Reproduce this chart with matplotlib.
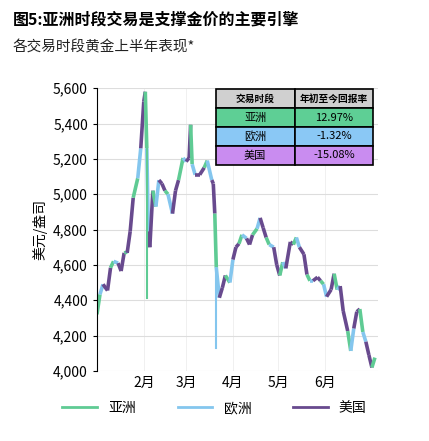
import matplotlib
matplotlib.use("Agg")
import matplotlib.pyplot as plt
from matplotlib.lines import Line2D

plt.rcParams['font.family'] = ['Noto Sans CJK SC', 'DejaVu Sans']

days = [0,2,4,7,9,11,14,16,18,20,20,22,24,27,29,31,32,33,34,35,37,39,41,43,45,47,50,52,54,57,59,61,62,63,65,68,71,73,76,77,78,79,81,83,85,88,90,92,94,96,99,101,103,106,108,110,112,114,117,119,121,123,125,128,130,132,134,137,139,141,143,146,148,150,152,155,157,159,161,163,166,168,170,172,174,176,178,180,182,184]
price = [4320,4433,4490,4455,4584,4620,4610,4565,4668,4672,4668,4790,4980,5090,5260,5525,5580,5260,4790,4700,5020,4930,5080,5060,5020,5000,4890,5020,5080,5205,5185,5205,5393,5170,5110,5110,5150,5190,5080,5060,4890,4584,4414,4470,4540,4500,4630,4700,4720,4770,4750,4715,4770,4805,4866,4810,4755,4715,4700,4600,4540,4615,4580,4730,4715,4755,4700,4660,4545,4510,4510,4530,4510,4490,4420,4460,4550,4460,4480,4339,4225,4113,4240,4335,4350,4220,4165,4090,4019,4075]
sessions = ['亚洲','欧洲','美国','美国']
colors = {'亚洲':'#5fcb94','欧洲':'#84c6ee','美国':'#684a8e'}

table_rows = ['亚洲','欧洲','美国']
table_vals = ['12.97%','-1.32%','-15.08%']
table_cols = ['交易时段','年初至今回报率']
row_colors = ['#5ecf95','#8ac8f5','#c98cf0']

month_days = [31,59,90,120,151]
month_labels = ['2月','3月','4月','5月','6月']

fig = plt.figure(figsize=(4.29,4.41), dpi=100)
ax = fig.add_axes([0.226,0.159,0.655,0.641])
for i in range(len(days)-1):
    s = sessions[i % len(sessions)]
    ax.plot(days[i:i+2], price[i:i+2], color=colors[s], lw=2.6, solid_capstyle='butt')
# extra spikes
ax.plot([33,33],[5260,4414], color=colors['亚洲'], lw=1.5)
ax.plot([79,79],[4584,4132], color=colors['欧洲'], lw=1.5)

ax.set_xlim(0,186)
ax.set_ylim(4000,5600)
ax.set_yticks(range(4000,5601,200))
ax.set_yticklabels([f'{v:,}' for v in range(4000,5601,200)], fontsize=10)
ax.set_xticks(month_days)
ax.set_xticklabels(month_labels, fontsize=10)
ax.tick_params(axis='x', length=0)
ax.tick_params(axis='y', length=3)
ax.grid(axis='y', color='#dddddd', lw=0.8)
ax.grid(axis='x', color='#eeeeee', lw=0.6)
ax.set_axisbelow(True)
for s in ['top','right','bottom']:
    ax.spines[s].set_visible(False)
ax.set_ylabel('美元/盎司', fontsize=10)

tax = fig.add_axes([0.503,0.626,0.367,0.172])
tax.axis('off')
cells = [[r, v] for r, v in zip(table_rows, table_vals)]
tb = tax.table(cellText=cells, colLabels=table_cols, loc='center', bbox=[0,0,1,1],
               cellColours=[[c,c] for c in row_colors], colColours=['#d0d0d0','#d0d0d0'],
               cellLoc='center', colWidths=[0.5,0.5])
tb.auto_set_font_size(False)
for (r,c), cell in tb.get_celld().items():
    cell.set_linewidth(1.2)
    cell.get_text().set_fontsize(8 if r > 0 else 7)
    if r == 0:
        cell.get_text().set_fontweight('bold')

fig.text(0.03,0.955,'图5:亚洲时段交易是支撑金价的主要引擎', fontsize=11.5, fontweight='bold', va='center')
fig.text(0.03,0.893,'各交易时段黄金上半年表现*', fontsize=10.5, va='center', color='#222222')

handles = [Line2D([],[],color=colors[k],lw=2) for k in table_rows]
fig.legend(handles, table_rows, loc='center', bbox_to_anchor=(0.5,0.075), ncol=3, frameon=False, fontsize=10, handlelength=2.5, columnspacing=3)
fig.savefig('out.png', dpi=100)
